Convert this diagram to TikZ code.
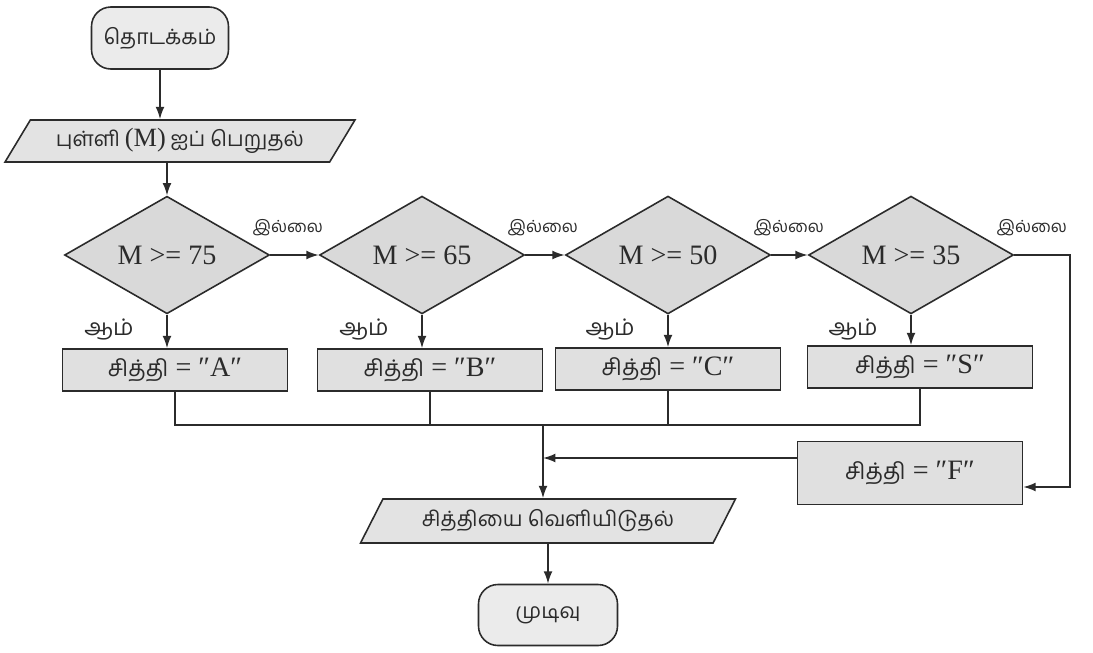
\documentclass[tikz,border=0pt]{standalone}
\usepackage{fontspec}
\setmainfont{Liberation Serif}
\newfontfamily\ta[Script=Tamil]{Hind Madurai}
\usetikzlibrary{shapes.geometric,arrows.meta,calc}
\definecolor{ink}{HTML}{2B2B2B}
\definecolor{termfill}{HTML}{EBEBEB}
\definecolor{iofill}{HTML}{E3E3E3}
\definecolor{decfill}{HTML}{D9D9D9}
\definecolor{procfill}{HTML}{E0E0E0}
\newcommand\tamtxt[2][12]{{\ta\fontsize{#1}{#1}\selectfont #2}}
\begin{document}
\begin{tikzpicture}[x=0.02cm,y=-0.02cm,
  line/.style={draw=ink,line width=0.9pt},
  arr/.style={line,-{Latex[length=7pt,width=5pt]}},
  term/.style={line,fill=termfill,rounded corners=11pt,minimum width=2.74cm,
    minimum height=1.24cm,inner sep=0pt,text=ink},
  io/.style={line,fill=iofill,trapezium,trapezium left angle=45,
    trapezium right angle=135,trapezium stretches body,inner sep=0pt,text=ink},
  dec/.style={line,fill=decfill,diamond,minimum width=4.1cm,minimum height=2.04cm,
    inner sep=0pt,text=ink,font=\fontsize{16}{19}\selectfont},
  proc/.style={line,fill=procfill,minimum width=4.5cm,minimum height=0.84cm,
    inner sep=0pt,text=ink,font=\fontsize{16}{18}\selectfont},
  lbl/.style={text=ink,inner sep=0pt}
]
\useasboundingbox (0,0) rectangle (1093,653);

% terminals and input/output
\node[term] (start) at (160,38) {\tamtxt{தொடக்கம்}};
\node[io,minimum width=7cm,minimum height=0.84cm] (in) at (180,141)
  {\tamtxt{புள்ளி} {\fontsize{15}{17}\selectfont (M)} \tamtxt{ஐப் பெறுதல்}};

% decisions
\node[dec] (d1) at (167,255) {M >= 75};
\node[dec] (d2) at (422,255) {M >= 65};
\node[dec] (d3) at (668,255) {M >= 50};
\node[dec] (d4) at (911,255) {M >= 35};

% grade assignments
\node[proc] (bA) at (175,370) {\tamtxt[13]{சித்தி} = ″A″};
\node[proc] (bB) at (430,370) {\tamtxt[13]{சித்தி} = ″B″};
\node[proc] (bC) at (668,369) {\tamtxt[13]{சித்தி} = ″C″};
\node[proc] (bS) at (920,367) {\tamtxt[13]{சித்தி} = ″S″};
\node[proc,minimum height=1.26cm] (bF) at (910,473) {\tamtxt[13]{சித்தி} = ″F″};

\node[io,minimum width=7.5cm,minimum height=0.88cm] (out) at (548,521)
  {\tamtxt{சித்தியை வெளியிடுதல்}};
\node[term,minimum width=2.78cm,minimum height=1.22cm] (end) at (548,615)
  {\tamtxt{முடிவு}};

% branch labels
\foreach \d in {d1,d2,d3,d4}{
  \node[lbl,anchor=west] (no\d) at ($(\d.east)+(-18,-27)$) {\tamtxt[9.5]{இல்லை}};
  \node[lbl,anchor=east] (yes\d) at ($(\d.south)+(-33,15)$) {\tamtxt[13]{ஆம்}};
}

% flow
\draw[arr] (start.south) -- (start.south |- in.north);
\draw[arr] (d1.north |- in.south) -- (d1.north);
\draw[arr] (d1.east) -- (d2.west);
\draw[arr] (d2.east) -- (d3.west);
\draw[arr] (d3.east) -- (d4.west);
\draw[arr] (d1.south) -- (d1.south |- bA.north);
\draw[arr] (d2.south) -- (d2.south |- bB.north);
\draw[arr] (d3.south) -- (d3.south |- bC.north);
\draw[arr] (d4.south) -- (d4.south |- bS.north);

\coordinate (c1) at (1070,487);
\draw[arr] (d4.east) -| (c1) -- (c1 -| bF.east);

\coordinate (m) at (543,425);
\draw[line] (bA.south) |- (bS.south |- m) -- (bS.south);
\draw[line] (bB.south) -- (bB.south |- m);
\draw[line] (bC.south) -- (bC.south |- m);
\draw[arr] (m) -- (m |- out.north);
\draw[arr] ($(bF.west)+(0,-15)$) coordinate (fo) -- (fo -| m);
\draw[arr] (out.south) -- (end.north);
\end{tikzpicture}
\end{document}
